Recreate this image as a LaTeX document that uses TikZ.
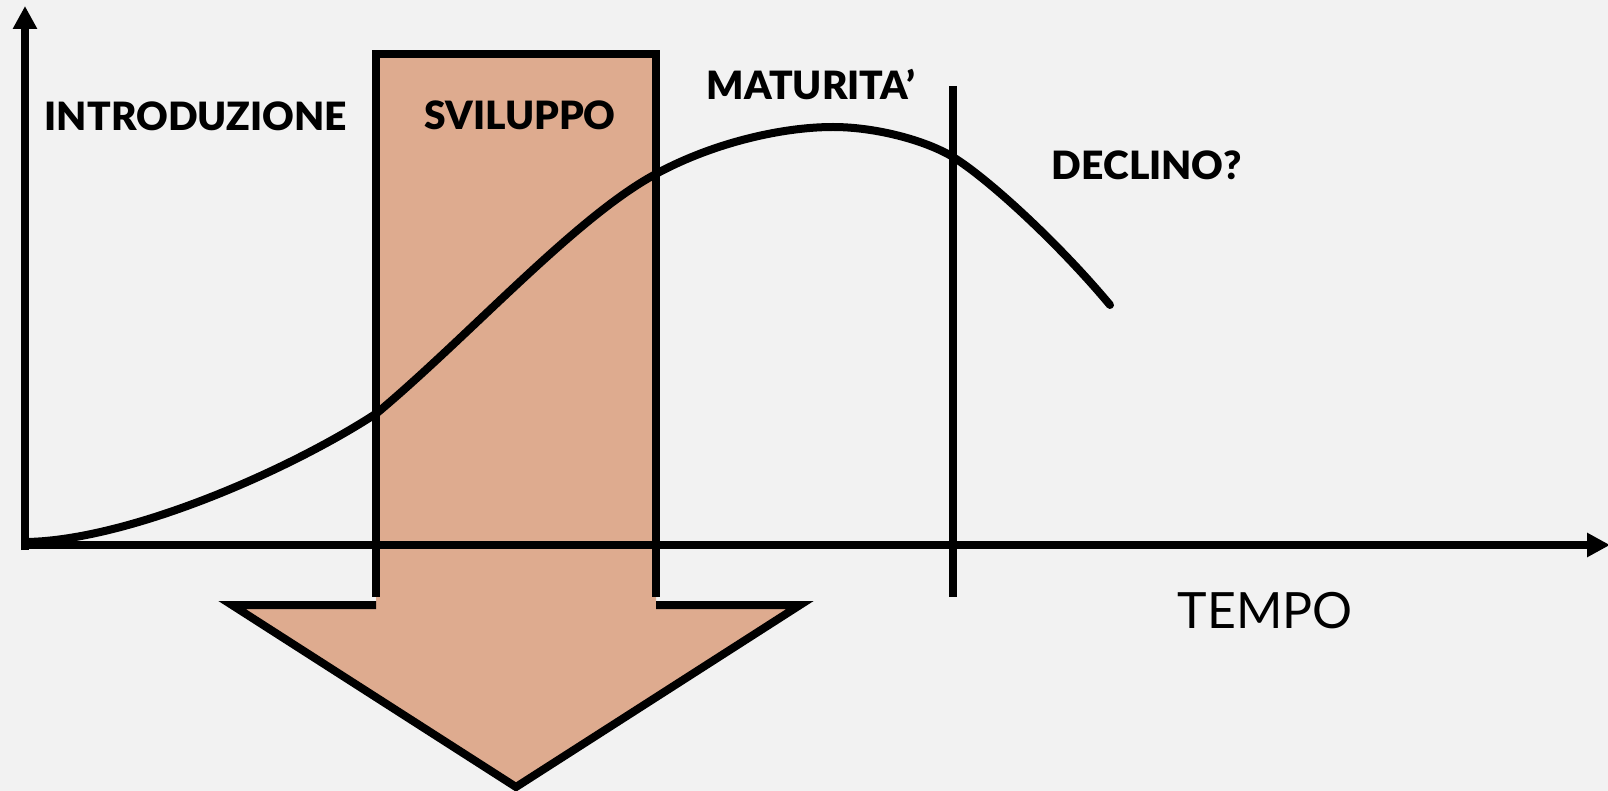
\documentclass[tikz,border=0pt]{standalone}
\usepackage{fontspec}
\setmainfont{Lato}[BoldFont={Lato Black}]
\usetikzlibrary{arrows.meta}
\definecolor{bgc}{RGB}{242,242,242}
\definecolor{boxc}{RGB}{222,171,143}
\tikzset{
  thick line/.style={line width=8pt, black},
  axisline/.style={thick line, -{Triangle[length=23pt,width=23pt]}},
  phase/.style={font=\fontsize{39}{43}\selectfont\bfseries, anchor=base, inner sep=0pt},
  tempolabel/.style={font=\fontsize{50}{55}\selectfont, anchor=base, inner sep=0pt}
}
\begin{document}
\begin{tikzpicture}[x=1pt,y=-1pt]
\fill[bgc] (0,0) rectangle (1608,791);
\useasboundingbox (0,0) rectangle (1608,791);
% filled arrow shape
\fill[boxc] (376,54) -- (656,54) -- (656,605) -- (800,605) -- (516,787) -- (232,605) -- (376,605) -- cycle;
% axes
\coordinate (Ytop) at (25,6);
\coordinate (Xend) at (1610,545);
\draw[axisline] (25,550) -- (Ytop);
\draw[axisline] (21,545) -- (Xend);
% curve
\draw[thick line, line cap=round]
  (27,542) .. controls (130,540) and (290,470) .. (377,413)
  .. controls (470,335) and (574,219) .. (654,175)
  .. controls (710,144) and (780,127) .. (833,127)
  .. controls (875,127) and (925,140) .. (953,157)
  .. controls (990,180) and (1060,245) .. (1110,305);
% box outline
\draw[thick line, line join=miter] (376,597) -- (376,54) -- (656,54) -- (656,597);
\draw[thick line, line join=miter] (376,605) -- (232,605) -- (516,787) -- (800,605) -- (656,605);
% maturity boundary
\coordinate (Mtop) at (953,86);
\coordinate (Mbot) at (953,597);
\draw[thick line] (Mtop) -- (Mbot);
% labels
\node[phase] (intro) at (196,131) {INTRODUZIONE};
\node[phase] (svil) at (520,130) {SVILUPPO};
\node[phase] (mat) at (811,99.5) {MATURITA’};
\node[phase] (decl) at (1147,180) {DECLINO?};
\node[tempolabel] (tempo) at (1265,628) {TEMPO};
\end{tikzpicture}
\end{document}
